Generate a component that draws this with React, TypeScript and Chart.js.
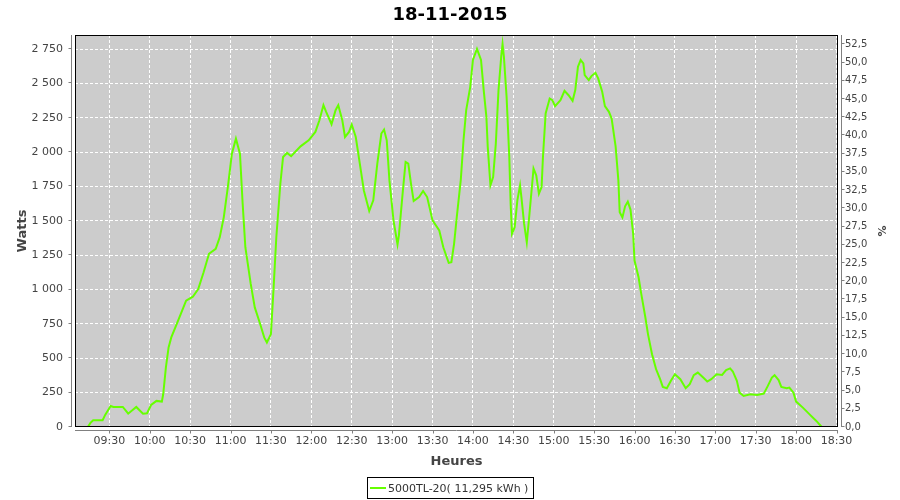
import React, { useEffect, useRef } from "react";
import { Chart, registerables } from "chart.js";

Chart.register(...registerables);

const chartTitle = "18-11-2015";
const xAxisTitle = "Heures";
const yAxisTitle = "Watts";
const y2AxisTitle = "%";
const seriesLabel = "5000TL-20( 11,295 kWh )";

const times = [
  "09:14", "09:16", "09:18", "09:25", "09:27", "09:31", "09:33", "09:40", "09:44", "09:50",
  "09:55", "09:58", "10:01", "10:05", "10:09", "10:10", "10:12", "10:14", "10:16", "10:20",
  "10:23", "10:27", "10:32", "10:36", "10:40", "10:44", "10:49", "10:52", "10:55", "10:58",
  "11:01", "11:04", "11:07", "11:09", "11:11", "11:15", "11:18", "11:22", "11:25", "11:27",
  "11:30", "11:32", "11:34", "11:37", "11:39", "11:42", "11:45", "11:52", "11:58", "12:03",
  "12:06", "12:09", "12:11", "12:15", "12:18", "12:20", "12:23", "12:25", "12:28", "12:30",
  "12:33", "12:36", "12:39", "12:43", "12:46", "12:49", "12:52", "12:54", "12:56", "12:58",
  "13:01", "13:04", "13:05", "13:08", "13:10", "13:12", "13:14", "13:16", "13:20", "13:23",
  "13:26", "13:30", "13:35", "13:38", "13:42", "13:44", "13:46", "13:48", "13:51", "13:53",
  "13:55", "13:58", "14:00", "14:03", "14:06", "14:08", "14:10", "14:11", "14:13", "14:15",
  "14:17", "14:19", "14:21", "14:22", "14:23", "14:25", "14:27", "14:28", "14:29", "14:31",
  "14:33", "14:35", "14:36", "14:38", "14:40", "14:42", "14:44", "14:45", "14:47", "14:49",
  "14:51", "14:52", "14:54", "14:57", "14:59", "15:01", "15:05", "15:08", "15:11", "15:14",
  "15:16", "15:18", "15:20", "15:22", "15:23", "15:26", "15:28", "15:31", "15:33", "15:36",
  "15:38", "15:41", "15:43", "15:46", "15:48", "15:49", "15:51", "15:53", "15:55", "15:57",
  "15:59", "16:00", "16:03", "16:05", "16:08", "16:10", "16:13", "16:16", "16:19", "16:21",
  "16:24", "16:27", "16:30", "16:34", "16:38", "16:41", "16:44", "16:47", "16:51", "16:54",
  "16:57", "17:01", "17:05", "17:08", "17:11", "17:13", "17:16", "17:18", "17:21", "17:26",
  "17:31", "17:36", "17:39", "17:42", "17:44", "17:47", "17:49", "17:53", "17:55", "17:58",
  "18:00", "18:05", "18:10", "18:15", "18:19",
];

const watts = [
  0, 30, 49, 49, 90, 153, 146, 146, 97, 146,
  97, 100, 160, 190, 185, 238, 433, 579, 652, 749,
  822, 919, 948, 1004, 1126, 1260, 1296, 1381, 1527, 1746,
  1989, 2098, 1989, 1625, 1308, 1041, 870, 749, 652, 615,
  676, 1016, 1381, 1770, 1964, 1994, 1970, 2042, 2086, 2147,
  2232, 2342, 2293, 2203, 2305, 2342, 2232, 2110, 2147, 2201,
  2110, 1916, 1721, 1571, 1649, 1916, 2135, 2164, 2086, 1794,
  1503, 1328, 1393, 1721, 1928, 1916, 1770, 1644, 1673, 1717,
  1673, 1503, 1430, 1308, 1194, 1199, 1333, 1527, 1800, 2086,
  2305, 2475, 2670, 2750, 2670, 2451, 2256, 2038, 1758, 1819,
  2062, 2451, 2694, 2786, 2694, 2402, 1964, 1625, 1406, 1454,
  1649, 1758, 1673, 1479, 1344, 1552, 1770, 1880, 1831, 1697,
  1746, 1964, 2281, 2390, 2378, 2334, 2378, 2446, 2414, 2373,
  2451, 2621, 2670, 2646, 2560, 2524, 2553, 2577, 2536, 2439,
  2334, 2293, 2244, 2038, 1794, 1563, 1525, 1606, 1640, 1582,
  1406, 1211, 1089, 968, 800, 676, 530, 421, 348, 292,
  282, 336, 384, 348, 282, 311, 377, 396, 360, 331,
  348, 384, 379, 414, 426, 404, 336, 250, 226, 238,
  233, 243, 299, 360, 377, 341, 292, 282, 287, 250,
  185, 141, 92, 44, 0,
];

const xTickLabels = [
  "09:30", "10:00", "10:30", "11:00", "11:30", "12:00", "12:30", "13:00", "13:30", "14:00",
  "14:30", "15:00", "15:30", "16:00", "16:30", "17:00", "17:30", "18:00", "18:30",
];
const wattTicks = [0, 250, 500, 750, 1000, 1250, 1500, 1750, 2000, 2250, 2500, 2750];
const percentTicks = [
  0, 2.5, 5, 7.5, 10, 12.5, 15, 17.5, 20, 22.5, 25, 27.5, 30, 32.5, 35, 37.5, 40, 42.5, 45,
  47.5, 50, 52.5,
];

const xMinMinutes = 544.5;
const xMaxMinutes = 1111.1;
const wattMax = 2852;
const percentMax = 53.78;

const FONT = "'DejaVu Sans', sans-serif";
const LINE_COLOR = "#66ff00";

const toMinutes = (t: string) => {
  const [h, m] = t.split(":").map(Number);
  return h * 60 + m;
};
const fmtTime = (v: number) => {
  const h = Math.floor(v / 60);
  const m = Math.round(v - h * 60);
  return `${String(h).padStart(2, "0")}:${String(m).padStart(2, "0")}`;
};
const fmtWatts = (v: number) =>
  v >= 1000 ? `${Math.floor(v / 1000)} ${String(v % 1000).padStart(3, "0")}` : String(v);
const fmtPercent = (v: number) => v.toFixed(1).replace(".", ",");

const decorPlugin = {
  id: "decor",
  beforeDraw(chart: any) {
    const { ctx, chartArea: a } = chart;
    ctx.save();
    ctx.fillStyle = "#ffffff";
    ctx.fillRect(0, 0, chart.width, chart.height);
    ctx.fillStyle = "#cccccc";
    ctx.fillRect(a.left, a.top, a.right - a.left, a.bottom - a.top);
    ctx.restore();
  },
  afterDraw(chart: any) {
    const { ctx, chartArea: a, scales } = chart;
    ctx.save();
    // plot border
    ctx.strokeStyle = "#000000";
    ctx.lineWidth = 1;
    ctx.setLineDash([]);
    ctx.strokeRect(a.left + 0.5, a.top + 0.5, a.right - a.left - 1, a.bottom - a.top - 1);

    // axis lines (offset from plot)
    ctx.strokeStyle = "#808080";
    ctx.beginPath();
    const lx = a.left - 4 + 0.5;
    ctx.moveTo(lx, a.top);
    ctx.lineTo(lx, a.bottom);
    scales.y.ticks.forEach((t: any) => {
      const py = Math.round(scales.y.getPixelForValue(t.value)) - 0.5;
      ctx.moveTo(lx - 3, py);
      ctx.lineTo(lx, py);
    });
    const rx = a.right + 3 + 0.5;
    ctx.moveTo(rx, a.top);
    ctx.lineTo(rx, a.bottom);
    scales.y1.ticks.forEach((t: any) => {
      const py = Math.round(scales.y1.getPixelForValue(t.value)) - 0.5;
      ctx.moveTo(rx, py);
      ctx.lineTo(rx + 3, py);
    });
    const by = a.bottom + 3 + 0.5;
    ctx.moveTo(a.left, by);
    ctx.lineTo(a.right, by);
    scales.x.ticks.forEach((t: any) => {
      const px = Math.round(scales.x.getPixelForValue(t.value)) + 0.5;
      ctx.moveTo(px, by);
      ctx.lineTo(px, by + 3);
    });
    ctx.stroke();

    // title
    ctx.fillStyle = "#000000";
    ctx.font = `bold 18px ${FONT}`;
    ctx.textAlign = "center";
    ctx.textBaseline = "alphabetic";
    ctx.fillText(chartTitle, 450, 20);

    // axis titles
    ctx.fillStyle = "#444444";
    ctx.font = `bold 13px ${FONT}`;
    ctx.fillText(xAxisTitle, (a.left + a.right) / 2, 465);

    ctx.save();
    ctx.translate(26, (a.top + a.bottom) / 2);
    ctx.rotate(-Math.PI / 2);
    ctx.fillText(yAxisTitle, 0, 0);
    ctx.restore();

    ctx.save();
    ctx.translate(886, (a.top + a.bottom) / 2);
    ctx.rotate(-Math.PI / 2);
    ctx.font = `bold 11px ${FONT}`;
    ctx.fillText(y2AxisTitle, 0, 0);
    ctx.restore();

    // legend
    ctx.font = `11px ${FONT}`;
    const tw = ctx.measureText(seriesLabel).width;
    const boxW = Math.round(tw + 26);
    const boxX = Math.round(450 - boxW / 2);
    const boxY = 477;
    ctx.strokeStyle = "#000000";
    ctx.lineWidth = 1;
    ctx.strokeRect(boxX + 0.5, boxY + 0.5, boxW, 21);
    ctx.strokeStyle = LINE_COLOR;
    ctx.lineWidth = 2;
    ctx.beginPath();
    ctx.moveTo(boxX + 3, boxY + 11);
    ctx.lineTo(boxX + 19, boxY + 11);
    ctx.stroke();
    ctx.fillStyle = "#333333";
    ctx.textAlign = "left";
    ctx.fillText(seriesLabel, boxX + 21, boxY + 15);
    ctx.restore();
  },
};

export default function App() {
  const canvasRef = useRef<HTMLCanvasElement | null>(null);

  useEffect(() => {
    const canvas = canvasRef.current;
    if (!canvas) return;
    const points = times.map((t, i) => ({ x: toMinutes(t), y: watts[i] }));
    const chart = new Chart(canvas, {
      type: "line",
      data: {
        datasets: [
          {
            label: seriesLabel,
            data: points,
            borderColor: LINE_COLOR,
            backgroundColor: LINE_COLOR,
            borderWidth: 2,
            pointRadius: 0,
            tension: 0,
            fill: false,
            yAxisID: "y",
          },
        ],
      },
      options: {
        animation: false,
        responsive: false,
        devicePixelRatio: 1,
        layout: { padding: { top: 35, bottom: 43, left: 0, right: 0 } },
        plugins: {
          legend: { display: false },
          title: { display: false },
          tooltip: { enabled: false },
        },
        scales: {
          x: {
            type: "linear",
            position: "bottom",
            min: xMinMinutes,
            max: xMaxMinutes,
            afterBuildTicks: (s: any) => {
              s.ticks = xTickLabels.map((l) => ({ value: toMinutes(l) }));
            },
            afterFit: (s: any) => {
              s.height = 30;
            },
            ticks: {
              autoSkip: false,
              maxRotation: 0,
              padding: 8,
              color: "#444444",
              font: { family: FONT, size: 11 },
              callback: (v: any) => fmtTime(Number(v)),
            },
            grid: { color: "#ffffff", lineWidth: 1, drawTicks: false },
            border: { display: false, dash: [3, 2] },
          },
          y: {
            type: "linear",
            position: "left",
            min: 0,
            max: wattMax,
            afterBuildTicks: (s: any) => {
              s.ticks = wattTicks.map((v) => ({ value: v }));
            },
            afterFit: (s: any) => {
              s.width = 75;
            },
            ticks: {
              padding: 12,
              color: "#444444",
              font: { family: FONT, size: 11 },
              callback: (v: any) => fmtWatts(Number(v)),
            },
            grid: { color: "#ffffff", lineWidth: 1, drawTicks: false },
            border: { display: false, dash: [3, 2] },
          },
          y1: {
            type: "linear",
            position: "right",
            min: 0,
            max: percentMax,
            afterBuildTicks: (s: any) => {
              s.ticks = percentTicks.map((v) => ({ value: v }));
            },
            afterFit: (s: any) => {
              s.width = 62;
            },
            ticks: {
              autoSkip: false,
              padding: 7,
              color: "#444444",
              font: { family: FONT, size: 10 },
              callback: (v: any) => fmtPercent(Number(v)),
            },
            grid: { drawOnChartArea: false, drawTicks: false },
            border: { display: false },
          },
        },
      },
      plugins: [decorPlugin],
    });
    return () => chart.destroy();
  }, []);

  return (
    <div
      style={{
        position: "fixed",
        left: 0,
        top: 0,
        width: 900,
        height: 500,
        background: "#ffffff",
      }}
    >
      <canvas ref={canvasRef} width={900} height={500} style={{ width: 900, height: 500 }} />
    </div>
  );
}
